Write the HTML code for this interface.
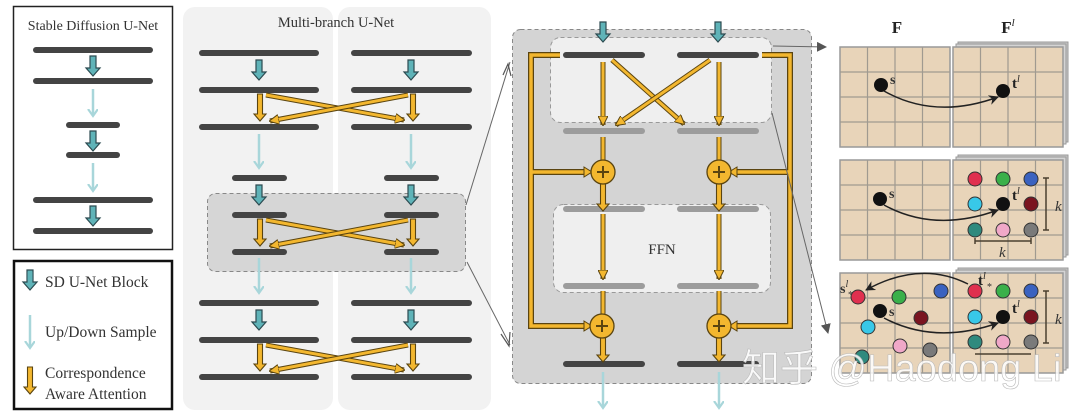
<!DOCTYPE html>
<html><head><meta charset="utf-8"><style>
html,body{margin:0;padding:0;background:#fff;}
svg{display:block;}
</style></head><body>
<svg width="1080" height="416" viewBox="0 0 1080 416" xmlns="http://www.w3.org/2000/svg" font-family="Liberation Serif, serif">
<defs>
<symbol id="ta" overflow="visible"><polygon points="-3,0 3,0 3,12 7,12 0,20 -7,12 -3,12" fill="#5fb3b8" stroke="#2c4a50" stroke-width="1.2"/></symbol>
<symbol id="oa" overflow="visible"><polygon points="-2.5,0 2.5,0 2.5,20 6,20 0,27 -6,20 -2.5,20" fill="#f3b72f" stroke="#5a4410" stroke-width="1.1"/></symbol>
<marker id="lt" markerWidth="10" markerHeight="12" refX="7" refY="5" orient="auto" markerUnits="userSpaceOnUse"><path d="M0,0 L7,5 L0,10" fill="none" stroke="#a8d6da" stroke-width="2.2"/></marker>
<marker id="ga" markerWidth="10" markerHeight="10" refX="9" refY="5" orient="auto" markerUnits="userSpaceOnUse"><path d="M0,0 L10,5 L0,10 z" fill="#555"/></marker>
<marker id="ba" markerWidth="10" markerHeight="10" refX="9" refY="5" orient="auto" markerUnits="userSpaceOnUse"><path d="M0,0 L10,5 L0,10 L3,5 z" fill="#222"/></marker>
<marker id="oh" markerWidth="10" markerHeight="10" refX="9" refY="5" orient="auto" markerUnits="userSpaceOnUse"><path d="M0,0 L10,5 L0,10 z" fill="#f3b72f" stroke="#5a4410" stroke-width="1"/></marker>
</defs>

<!-- Left SD box -->
<rect x="13.5" y="6.5" width="159" height="243" fill="#fff" stroke="#222" stroke-width="1.5"/>
<text x="93" y="30" font-size="14" text-anchor="middle" fill="#333">Stable Diffusion U-Net</text>
<g stroke="#444" stroke-width="6" stroke-linecap="round">
<line x1="36" y1="50" x2="150" y2="50"/><line x1="36" y1="81" x2="150" y2="81"/>
<line x1="69" y1="125" x2="117" y2="125"/><line x1="69" y1="155" x2="117" y2="155"/>
<line x1="36" y1="200" x2="150" y2="200"/><line x1="36" y1="231" x2="150" y2="231"/>
</g>
<use href="#ta" x="93" y="56"/><use href="#ta" x="93" y="131"/><use href="#ta" x="93" y="206"/>
<g stroke="#a8d6da" stroke-width="2.5" marker-end="url(#lt)">
<line x1="93" y1="89" x2="93" y2="116"/><line x1="93" y1="163" x2="93" y2="191"/>
</g>

<!-- Legend -->
<rect x="14" y="261" width="158" height="148" fill="#fff" stroke="#111" stroke-width="2.5"/>
<use href="#ta" x="30" y="270"/>
<line x1="30" y1="272" x2="30" y2="280" stroke="#5fb3b8" stroke-width="5"/>
<text x="45" y="287" font-size="15.5" fill="#333">SD U-Net Block</text>
<line x1="30" y1="315" x2="30" y2="348" stroke="#a8d6da" stroke-width="2.5" marker-end="url(#lt)"/>
<text x="45" y="337" font-size="15.5" fill="#333">Up/Down Sample</text>
<use href="#oa" x="30" y="367"/>
<text x="45" y="378" font-size="15.5" fill="#333">Correspondence</text>
<text x="45" y="399" font-size="15.5" fill="#333">Aware Attention</text>

<!-- Multi-branch panel -->
<rect x="183" y="7" width="150" height="403" rx="12" fill="#f2f2f2"/>
<rect x="338" y="7" width="153" height="403" rx="12" fill="#f2f2f2"/>
<text x="336" y="27" font-size="14.5" text-anchor="middle" fill="#333">Multi-branch U-Net</text>
<rect x="207.5" y="193.5" width="258" height="78" rx="8" fill="#d6d6d6" stroke="#888" stroke-dasharray="4,3"/>
<g stroke="#444" stroke-width="6" stroke-linecap="round">
<line x1="202" y1="53" x2="316" y2="53"/><line x1="354" y1="53" x2="469" y2="53"/>
<line x1="202" y1="90" x2="316" y2="90"/><line x1="354" y1="90" x2="469" y2="90"/>
<line x1="202" y1="127" x2="316" y2="127"/><line x1="354" y1="127" x2="469" y2="127"/>
<line x1="235" y1="178" x2="284" y2="178"/><line x1="387" y1="178" x2="436" y2="178"/>
<line x1="235" y1="215" x2="284" y2="215"/><line x1="387" y1="215" x2="436" y2="215"/>
<line x1="235" y1="252" x2="284" y2="252"/><line x1="387" y1="252" x2="436" y2="252"/>
<line x1="202" y1="303" x2="316" y2="303"/><line x1="354" y1="303" x2="469" y2="303"/>
<line x1="202" y1="340" x2="316" y2="340"/><line x1="354" y1="340" x2="469" y2="340"/>
<line x1="202" y1="377" x2="316" y2="377"/><line x1="354" y1="377" x2="469" y2="377"/>
</g>
<use href="#ta" x="259" y="60"/><use href="#ta" x="411" y="60"/>
<use href="#ta" x="259" y="185"/><use href="#ta" x="411" y="185"/>
<use href="#ta" x="259" y="310"/><use href="#ta" x="411" y="310"/>
<g stroke="#a8d6da" stroke-width="2.5" marker-end="url(#lt)">
<line x1="259" y1="134" x2="259" y2="168"/><line x1="411" y1="134" x2="411" y2="168"/>
<line x1="259" y1="258" x2="259" y2="293"/><line x1="411" y1="258" x2="411" y2="293"/>
</g>
<g id="cx1">
<use href="#oa" x="260" y="94"/><use href="#oa" x="413" y="94"/>
<line x1="266" y1="95" x2="404" y2="120" stroke="#5a4410" stroke-width="5"/>
<line x1="266" y1="95" x2="404" y2="120" stroke="#f3b72f" stroke-width="3" marker-end="url(#oh)"/>
<line x1="408" y1="95" x2="270" y2="121" stroke="#5a4410" stroke-width="5"/>
<line x1="408" y1="95" x2="270" y2="121" stroke="#f3b72f" stroke-width="3" marker-end="url(#oh)"/>
</g>
<use href="#cx1" y="125"/>
<use href="#cx1" y="250"/>
<line x1="466" y1="205" x2="510" y2="62" stroke="#666" stroke-width="1"/>
<line x1="467" y1="262" x2="510" y2="345" stroke="#666" stroke-width="1"/>
<path d="M503,75 L508,64 L511,76" fill="none" stroke="#555" stroke-width="1.2"/>
<path d="M501,334 L509,346 L510,332" fill="none" stroke="#555" stroke-width="1.2"/>

<!-- Detail panel -->
<rect x="512.5" y="29.5" width="299" height="354" rx="8" fill="#d4d4d4" stroke="#888" stroke-dasharray="4,3"/>
<rect x="550.5" y="37.5" width="221" height="85" rx="10" fill="#efefef" stroke="#999" stroke-dasharray="4,3"/>
<rect x="553.5" y="204.5" width="217" height="88" rx="10" fill="#efefef" stroke="#999" stroke-dasharray="4,3"/>
<text x="662" y="254" font-size="15" text-anchor="middle" fill="#333">FFN</text>
<g fill="none" stroke-linejoin="miter">
<path d="M560,55 L531,55 L531,326 L588,326 M531,172 L588,172" stroke="#5a4410" stroke-width="6"/>
<path d="M560,55 L531,55 L531,326 L588,326 M531,172 L588,172" stroke="#f3b72f" stroke-width="3.5"/>
<path d="M762,55 L790,55 L790,326 L733,326 M790,172 L733,172" stroke="#5a4410" stroke-width="6"/>
<path d="M762,55 L790,55 L790,326 L733,326 M790,172 L733,172" stroke="#f3b72f" stroke-width="3.5"/>
</g>
<path d="M584,167 L592,172 L584,177 z M737,167 L729,172 L737,177 z" fill="#f3b72f" stroke="#5a4410"/>
<path d="M584,321 L592,326 L584,331 z M737,321 L729,326 L737,331 z" fill="#f3b72f" stroke="#5a4410"/>
<g stroke="#444" stroke-width="6" stroke-linecap="round">
<line x1="566" y1="55" x2="642" y2="55"/><line x1="680" y1="55" x2="756" y2="55"/>
<line x1="566" y1="364" x2="642" y2="364"/><line x1="680" y1="364" x2="756" y2="364"/>
</g>
<g stroke="#9c9c9c" stroke-width="6" stroke-linecap="round">
<line x1="566" y1="131" x2="642" y2="131"/><line x1="680" y1="131" x2="756" y2="131"/>
<line x1="566" y1="209" x2="642" y2="209"/><line x1="680" y1="209" x2="756" y2="209"/>
<line x1="566" y1="286" x2="642" y2="286"/><line x1="680" y1="286" x2="756" y2="286"/>
</g>
<use href="#ta" x="603" y="22"/><use href="#ta" x="718" y="22"/>
<line x1="603" y1="62" x2="603" y2="125" stroke="#5a4410" stroke-width="5"/><line x1="603" y1="62" x2="603" y2="125" stroke="#f3b72f" stroke-width="3" marker-end="url(#oh)"/>
<line x1="719" y1="62" x2="719" y2="125" stroke="#5a4410" stroke-width="5"/><line x1="719" y1="62" x2="719" y2="125" stroke="#f3b72f" stroke-width="3" marker-end="url(#oh)"/>
<line x1="612" y1="60" x2="684" y2="124" stroke="#5a4410" stroke-width="5"/><line x1="612" y1="60" x2="684" y2="124" stroke="#f3b72f" stroke-width="3" marker-end="url(#oh)"/>
<line x1="710" y1="60" x2="616" y2="125" stroke="#5a4410" stroke-width="5"/><line x1="710" y1="60" x2="616" y2="125" stroke="#f3b72f" stroke-width="3" marker-end="url(#oh)"/>
<line x1="603" y1="137" x2="603" y2="160" stroke="#5a4410" stroke-width="5"/><line x1="603" y1="137" x2="603" y2="160" stroke="#f3b72f" stroke-width="3"/>
<line x1="719" y1="137" x2="719" y2="160" stroke="#5a4410" stroke-width="5"/><line x1="719" y1="137" x2="719" y2="160" stroke="#f3b72f" stroke-width="3"/>
<use href="#oa" x="603" y="184"/>
<use href="#oa" x="719" y="184"/>
<line x1="603" y1="214" x2="603" y2="279" stroke="#5a4410" stroke-width="5"/><line x1="603" y1="214" x2="603" y2="279" stroke="#f3b72f" stroke-width="3" marker-end="url(#oh)"/>
<line x1="719" y1="214" x2="719" y2="279" stroke="#5a4410" stroke-width="5"/><line x1="719" y1="214" x2="719" y2="279" stroke="#f3b72f" stroke-width="3" marker-end="url(#oh)"/>
<line x1="603" y1="291" x2="603" y2="314" stroke="#5a4410" stroke-width="5"/><line x1="603" y1="291" x2="603" y2="314" stroke="#f3b72f" stroke-width="3"/>
<line x1="719" y1="291" x2="719" y2="314" stroke="#5a4410" stroke-width="5"/><line x1="719" y1="291" x2="719" y2="314" stroke="#f3b72f" stroke-width="3"/>
<use href="#oa" x="603" y="335"/><use href="#oa" x="719" y="335"/>
<g fill="#f3b72f" stroke="#5a4410" stroke-width="1.3">
<circle cx="603" cy="172" r="12"/><circle cx="719" cy="172" r="12"/>
<circle cx="602" cy="326" r="12"/><circle cx="719" cy="326" r="12"/>
</g>
<g stroke="#5a4410" stroke-width="2">
<path d="M597,172 h12 M603,166 v12 M713,172 h12 M719,166 v12 M596,326 h12 M602,320 v12 M713,326 h12 M719,320 v12"/>
</g>
<g stroke="#a8d6da" stroke-width="2.5" marker-end="url(#lt)">
<line x1="603" y1="372" x2="603" y2="408"/><line x1="719" y1="372" x2="719" y2="408"/>
</g>
<line x1="773" y1="46" x2="826" y2="47" stroke="#666" stroke-width="1" marker-end="url(#ga)"/>
<line x1="772" y1="113" x2="828" y2="333" stroke="#666" stroke-width="1" marker-end="url(#ga)"/>

<!-- Grids -->
<text x="897" y="33" font-size="17" font-weight="bold" text-anchor="middle" fill="#222">F</text>
<text x="1008" y="33" font-size="17" font-weight="bold" text-anchor="middle" fill="#222">F<tspan font-size="11" dy="-7" font-style="italic" font-weight="normal">l</tspan></text>
<g id="panel">
<rect x="958" y="42" width="110" height="100" fill="#c8c8c8" stroke="#999"/>
<rect x="956" y="44" width="110" height="100" fill="#d4d4d4" stroke="#999"/>
<rect x="840" y="47" width="110" height="100" fill="#e8d4b9" stroke="#999" stroke-width="1.5"/>
<rect x="953" y="47" width="110" height="100" fill="#e8d4b9" stroke="#999" stroke-width="1.5"/>
<g stroke="#a09a90" stroke-width="1.2">
<path d="M867.5,47 v100 M895,47 v100 M922.5,47 v100 M980.5,47 v100 M1008,47 v100 M1035.5,47 v100 M840,72 h110 M840,97 h110 M840,122 h110 M953,72 h110 M953,97 h110 M953,122 h110"/>
</g>
</g>
<use href="#panel" y="113"/>
<use href="#panel" y="226"/>
<circle cx="881" cy="85" r="7" fill="#111"/><text x="890" y="84" font-size="14" font-weight="bold" fill="#333">s</text>
<circle cx="1003" cy="91" r="7" fill="#111"/><text x="1012" y="88" font-size="15" font-weight="bold" fill="#222">t<tspan font-size="10" dy="-6" font-style="italic" font-weight="normal">l</tspan></text>
<path d="M884,91 Q935,120 998,97" fill="none" stroke="#222" stroke-width="1.5" marker-end="url(#ba)"/>
<g stroke="#333" stroke-width="1">
<circle cx="975" cy="179" r="7" fill="#e0304f"/><circle cx="1003" cy="179" r="7" fill="#3ab04a"/><circle cx="1031" cy="179" r="7" fill="#3a62c0"/>
<circle cx="975" cy="204" r="7" fill="#38c8e8"/><circle cx="1031" cy="204" r="7" fill="#7a1420"/>
<circle cx="975" cy="230" r="7" fill="#2f8a7e"/><circle cx="1003" cy="230" r="7" fill="#f0a8c8"/><circle cx="1031" cy="230" r="7" fill="#7a7a7a"/>
</g>
<circle cx="880" cy="199" r="7" fill="#111"/><text x="889" y="198" font-size="14" font-weight="bold" fill="#333">s</text>
<circle cx="1003" cy="204" r="7" fill="#111"/><text x="1012" y="200" font-size="15" font-weight="bold" fill="#222">t<tspan font-size="10" dy="-6" font-style="italic" font-weight="normal">l</tspan></text>
<path d="M884,205 Q935,233 998,210" fill="none" stroke="#222" stroke-width="1.5" marker-end="url(#ba)"/>
<path d="M1046,178 v52 M1043,178 h6 M1043,230 h6 M975,241 h56 M975,238 v6 M1031,238 v6" stroke="#4a4030" stroke-width="1.5" fill="none"/>
<text x="1055" y="211" font-size="15" font-style="italic" fill="#333">k</text>
<text x="999" y="257" font-size="15" font-style="italic" fill="#333">k</text>
<g stroke="#333" stroke-width="1">
<circle cx="858" cy="297" r="7" fill="#e0304f"/><circle cx="899" cy="297" r="7" fill="#3ab04a"/><circle cx="941" cy="291" r="7" fill="#3a62c0"/>
<circle cx="921" cy="318" r="7" fill="#7a1420"/><circle cx="868" cy="327" r="7" fill="#38c8e8"/>
<circle cx="900" cy="346" r="7" fill="#f0a8c8"/><circle cx="930" cy="350" r="7" fill="#7a7a7a"/><circle cx="862" cy="357" r="7" fill="#2f8a7e"/>
<circle cx="975" cy="291" r="7" fill="#e0304f"/><circle cx="1003" cy="291" r="7" fill="#3ab04a"/><circle cx="1031" cy="291" r="7" fill="#3a62c0"/>
<circle cx="975" cy="317" r="7" fill="#38c8e8"/><circle cx="1031" cy="317" r="7" fill="#7a1420"/>
<circle cx="975" cy="342" r="7" fill="#2f8a7e"/><circle cx="1003" cy="342" r="7" fill="#f0a8c8"/><circle cx="1031" cy="342" r="7" fill="#7a7a7a"/>
</g>
<circle cx="880" cy="311" r="7" fill="#111"/><text x="889" y="316" font-size="14" font-weight="bold" fill="#333">s</text>
<circle cx="1003" cy="317" r="7" fill="#111"/><text x="1012" y="313" font-size="15" font-weight="bold" fill="#222">t<tspan font-size="10" dy="-6" font-style="italic" font-weight="normal">l</tspan></text>
<text x="840" y="293" font-size="14" font-weight="bold" fill="#333">s<tspan font-size="10" dy="-6" font-style="italic" font-weight="normal">l</tspan></text>
<text x="848" y="298" font-size="10" fill="#333">*</text>
<text x="978" y="285" font-size="15" font-weight="bold" fill="#222">t<tspan font-size="10" dy="-6" font-style="italic" font-weight="normal">l</tspan></text>
<text x="987" y="290" font-size="10" fill="#333">*</text>
<path d="M884,318 Q935,345 998,323" fill="none" stroke="#222" stroke-width="1.5" marker-end="url(#ba)"/>
<path d="M968,284 Q920,260 866,290" fill="none" stroke="#222" stroke-width="1.5" marker-end="url(#ba)"/>
<path d="M1046,291 v52 M1043,291 h6 M1043,343 h6 M975,354 h56" stroke="#4a4030" stroke-width="1.5" fill="none"/>
<text x="1055" y="324" font-size="15" font-style="italic" fill="#333">k</text>

<text x="742" y="381" font-size="38" fill="#ffffff" fill-opacity="0.85" stroke="#bbb" stroke-width="0.6" font-family="Liberation Sans, Noto Sans CJK SC, sans-serif">知乎 @Haodong Li</text>
</svg>
</body></html>
